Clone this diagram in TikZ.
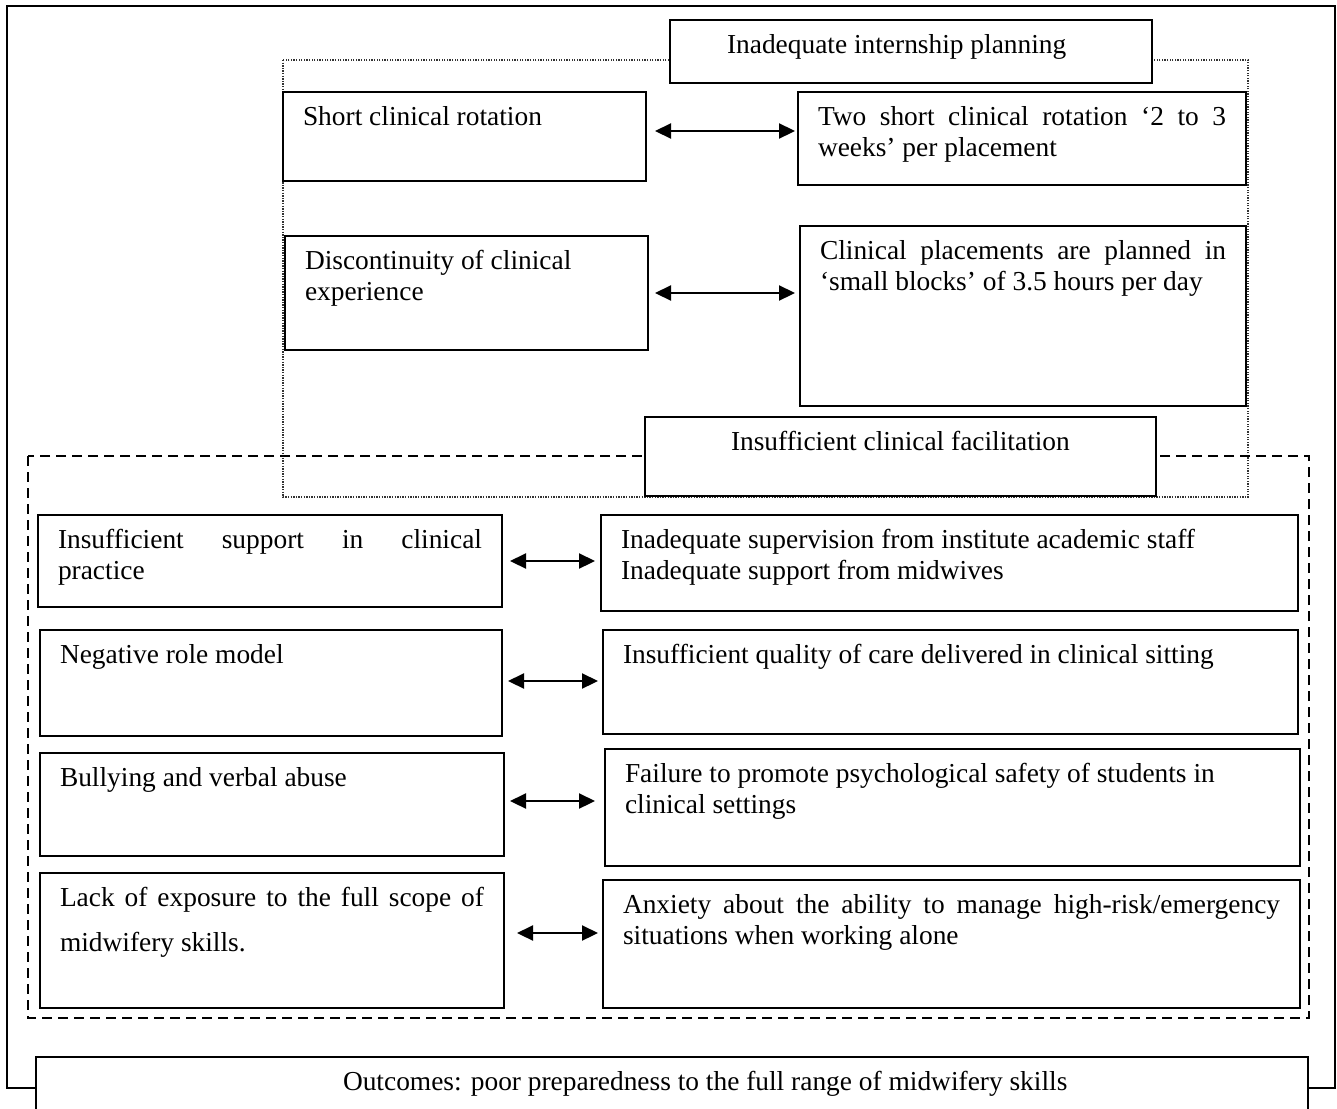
\documentclass[tikz,border=0pt]{standalone}
\usepackage{fontspec}
\setmainfont{Liberation Serif}
\usetikzlibrary{positioning,calc,arrows.meta}

% box text: width, height, lines
\newcommand{\cardtext}[3]{\parbox[t][#2][t]{#1}{\raggedright\rule{0pt}{33pt}#3}}
\newcommand{\fillline}[1]{\makebox[\linewidth][s]{#1}}

\begin{document}
\begin{tikzpicture}[x=1pt,y=-1pt,
    card/.style={draw, line width=1.8pt, fill=white, anchor=north west,
        inner xsep=20pt, inner ysep=0pt, outer sep=0pt,
        font=\fontsize{27.4}{31.5}\selectfont},
    link/.style={line width=2.2pt, {Triangle[length=16pt,width=15pt]}-{Triangle[length=16pt,width=15pt]}}]

        % Fix the page
        \useasboundingbox (0,0) rectangle (1337,1108);
        \clip (0,0) rectangle (1337,1108);

        % Outer frame
        \draw[line width=2.2pt] (7,6) rectangle (1335,1088);

        % Group frames
        \draw[line width=1.4pt, black!80, dash pattern=on 1.3pt off 1.3pt] (283,60) rectangle (1248,497);
        \draw[line width=1.9pt, dash pattern=on 10pt off 6pt] (28,456) rectangle (1309,1018);

        % Internship planning group
        \node[card] (plan) at (670,20) {\cardtext{442pt}{63pt}{\hspace*{37pt}Inadequate internship planning}};
        \node[card] (rot) at (283,92) {\cardtext{323pt}{89pt}{Short clinical rotation}};
        \node[card] (rotx) at (798,92) {\cardtext{408pt}{93pt}{\fillline{Two short clinical rotation ‘2 to 3}\\weeks’ per placement}};
        \node[card] (disc) at (285,236) {\cardtext{323pt}{114pt}{Discontinuity of clinical\\experience}};
        \node[card] (discx) at (800,226) {\cardtext{406pt}{180pt}{\fillline{Clinical placements are planned in}\\‘small blocks’ of 3.5 hours per day}};

        % Clinical facilitation group
        \node[card] (facil) at (645,417) {\cardtext{471pt}{79pt}{\hspace*{66pt}Insufficient clinical facilitation}};
        \node[card] (sup) at (38,515) {\cardtext{424pt}{92pt}{\fillline{Insufficient support in clinical}\\practice}};
        \node[card] (supx) at (601,515) {\cardtext{657pt}{96pt}{Inadequate supervision from institute academic staff\\Inadequate support from midwives}};
        \node[card] (role) at (40,630) {\cardtext{422pt}{106pt}{Negative role model}};
        \node[card] (rolex) at (603,630) {\cardtext{655pt}{104pt}{Insufficient quality of care delivered in clinical sitting}};
        \node[card] (bully) at (40,753) {\cardtext{424pt}{103pt}{Bullying and verbal abuse}};
        \node[card] (bullyx) at (605,749) {\cardtext{655pt}{117pt}{Failure to promote psychological safety of students in\\clinical settings}};
        \node[card] (expo) at (40,873) {\cardtext{424pt}{135pt}{\fillline{Lack of exposure to the full scope of}\\[14pt]midwifery skills.}};
        \node[card] (expox) at (603,880) {\cardtext{657pt}{128pt}{\fillline{Anxiety about the ability to manage high-risk/emergency}\\situations when working alone}};

        % Outcome
        \node[card, line width=2pt] (outc) at (36,1057) {\cardtext{1232pt}{80pt}{\hspace*{287pt}Outcomes: poor preparedness to the full range of midwifery skills}};

        % Two-way arrows
        \foreach \a/\b/\dy/\s/\e in {rot/rotx/5.5/9/3, disc/discx/0/7/5, sup/supx/0/8/6,
            role/rolex/2/6/5, bully/bullyx/3.5/6/10, expo/expox/7.5/13/5}
            \draw[link, shorten <=\s pt, shorten >=\e pt]
                ([yshift=\dy pt]\a.east) -- ([yshift=\dy pt]\a.east -| \b.west);

    \end{tikzpicture}
\end{document}
